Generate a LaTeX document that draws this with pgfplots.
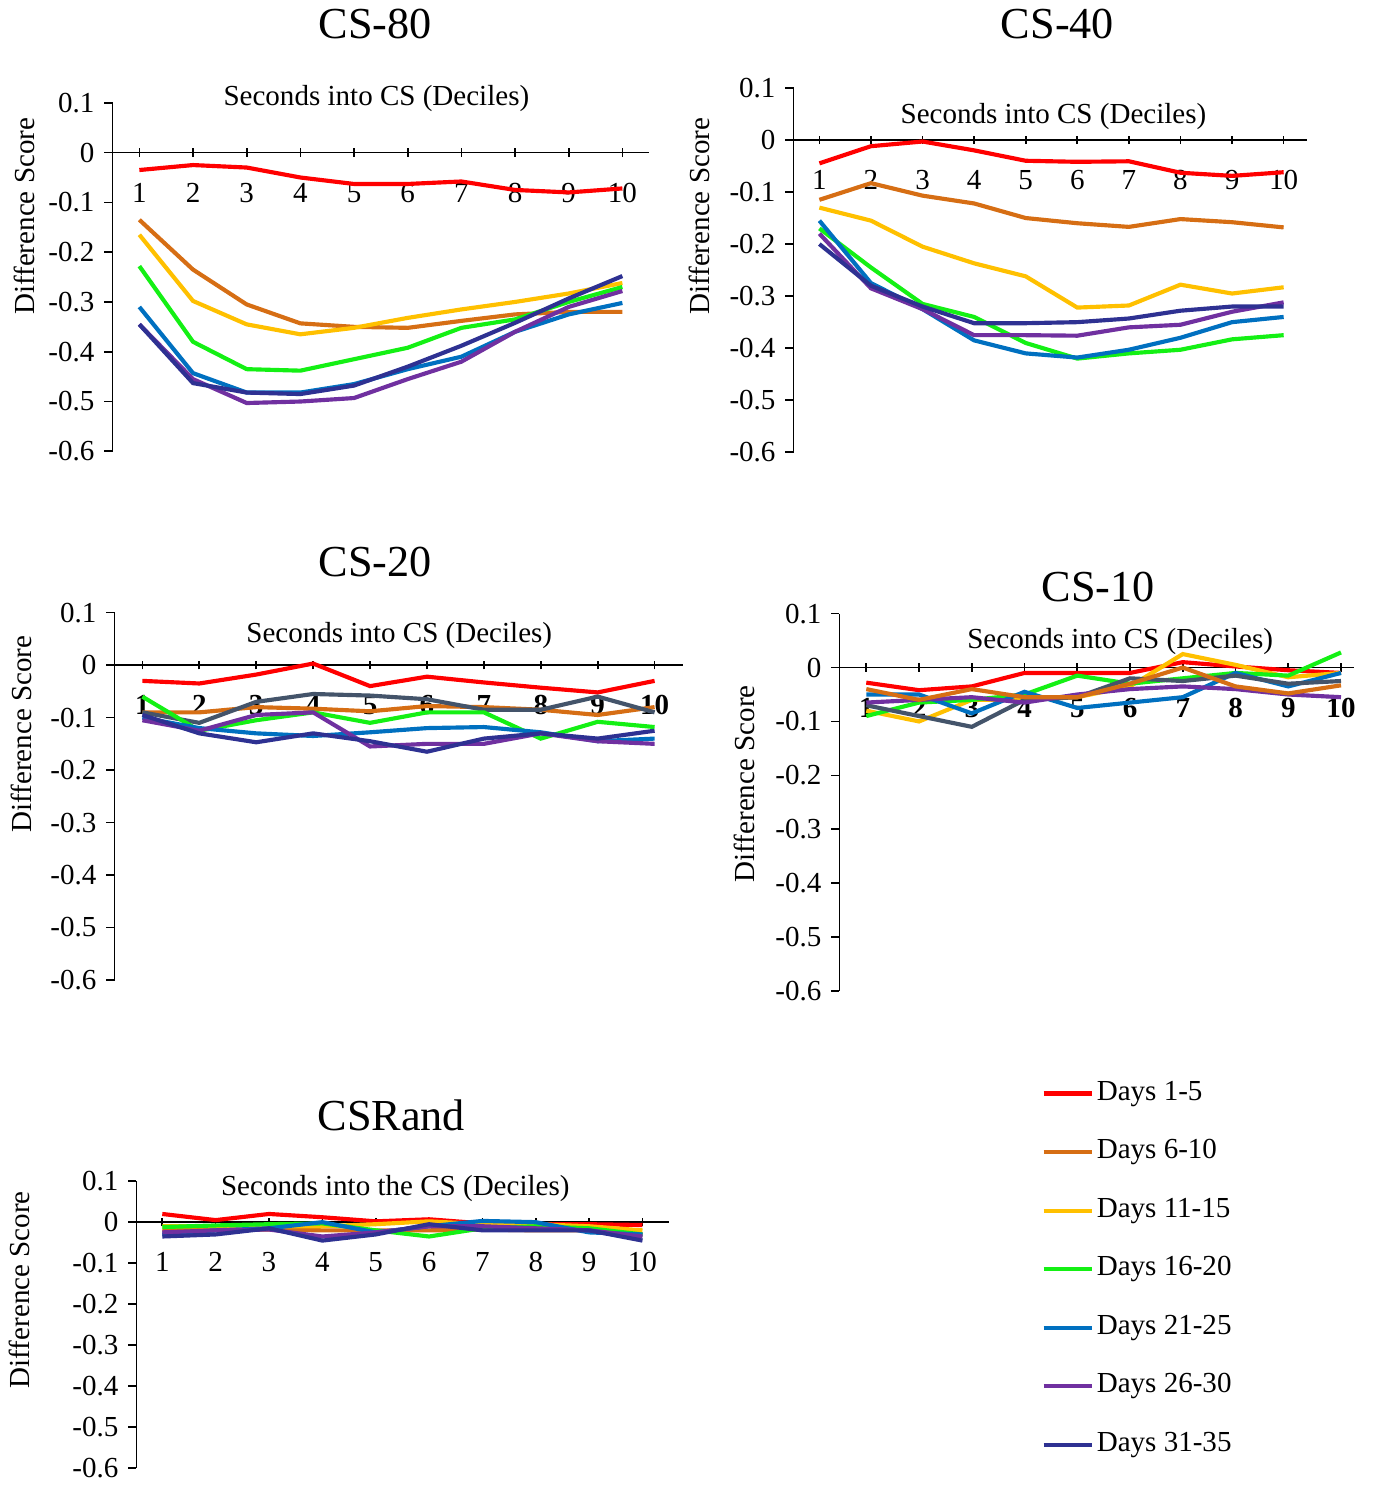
\documentclass[border=0pt]{standalone}
\usepackage{pgfplots}
\pgfplotsset{compat=1.18}
\usepackage{fontspec}
\setmainfont{Liberation Serif}
\definecolor{cA}{RGB}{255,0,0}
\definecolor{cB}{RGB}{214,110,20}
\definecolor{cC}{RGB}{255,192,0}
\definecolor{cD}{RGB}{20,240,20}
\definecolor{cE}{RGB}{0,112,192}
\definecolor{cF}{RGB}{112,48,160}
\definecolor{cG}{RGB}{46,49,146}
\definecolor{cH}{RGB}{68,84,106}
\pgfplotsset{panel/.style={scale only axis, anchor=south west,
 axis x line=middle, axis y line=left, axis line style={-, black, line width=0.6pt},
 ymin=-0.6, ymax=0.1, ytick={-0.6,-0.5,-0.4,-0.3,-0.2,-0.1,0,0.1},
 yticklabels={-0.6,-0.5,-0.4,-0.3,-0.2,-0.1,0,0.1},
 xtick={1,...,10}, xticklabels={1,2,3,4,5,6,7,8,9,10},
 tick style={black, line width=0.6pt}, major tick length=3pt,
 xtick align=center, ytick align=outside,
 ticklabel style={font=\fontsize{10.5}{11}\selectfont},
 xticklabel style={anchor=center, yshift=-13pt},
 every axis plot/.append style={line width=1.5pt, mark=none},
 clip=false}}
\begin{document}
\begin{tikzpicture}
\path (0,0) rectangle (1383*0.36pt,-1487*0.36pt);
% CS-80
\begin{axis}[panel, at={(113*0.36pt,-451*0.36pt)}, width=194.04pt, height=126pt, xmin=0.5, xmax=10.5]
\addplot[cA] coordinates {(1,-0.035)(2,-0.025)(3,-0.03)(4,-0.05)(5,-0.063)(6,-0.063)(7,-0.058)(8,-0.075)(9,-0.08)(10,-0.072)};
\addplot[cB] coordinates {(1,-0.135)(2,-0.235)(3,-0.305)(4,-0.343)(5,-0.35)(6,-0.352)(7,-0.338)(8,-0.325)(9,-0.32)(10,-0.32)};
\addplot[cC] coordinates {(1,-0.165)(2,-0.298)(3,-0.345)(4,-0.365)(5,-0.352)(6,-0.332)(7,-0.315)(8,-0.3)(9,-0.283)(10,-0.262)};
\addplot[cD] coordinates {(1,-0.228)(2,-0.38)(3,-0.435)(4,-0.438)(5,-0.415)(6,-0.392)(7,-0.352)(8,-0.335)(9,-0.3)(10,-0.27)};
\addplot[cE] coordinates {(1,-0.31)(2,-0.443)(3,-0.482)(4,-0.482)(5,-0.465)(6,-0.435)(7,-0.41)(8,-0.36)(9,-0.325)(10,-0.302)};
\addplot[cF] coordinates {(1,-0.345)(2,-0.455)(3,-0.503)(4,-0.5)(5,-0.493)(6,-0.455)(7,-0.42)(8,-0.36)(9,-0.31)(10,-0.278)};
\addplot[cG] coordinates {(1,-0.345)(2,-0.463)(3,-0.482)(4,-0.485)(5,-0.468)(6,-0.43)(7,-0.388)(8,-0.342)(9,-0.293)(10,-0.248)};
\end{axis}
% CS-40
\begin{axis}[panel, at={(797*0.36pt,-452*0.36pt)}, width=185.76pt, height=131.76pt, xmin=0.5, xmax=10.46]
\addplot[cA] coordinates {(1,-0.045)(2,-0.012)(3,-0.003)(4,-0.02)(5,-0.04)(6,-0.042)(7,-0.041)(8,-0.063)(9,-0.069)(10,-0.062)};
\addplot[cB] coordinates {(1,-0.115)(2,-0.083)(3,-0.107)(4,-0.122)(5,-0.15)(6,-0.16)(7,-0.167)(8,-0.152)(9,-0.158)(10,-0.168)};
\addplot[cC] coordinates {(1,-0.13)(2,-0.155)(3,-0.205)(4,-0.237)(5,-0.262)(6,-0.322)(7,-0.318)(8,-0.278)(9,-0.295)(10,-0.283)};
\addplot[cD] coordinates {(1,-0.17)(2,-0.245)(3,-0.315)(4,-0.34)(5,-0.39)(6,-0.42)(7,-0.41)(8,-0.403)(9,-0.383)(10,-0.375)};
\addplot[cE] coordinates {(1,-0.155)(2,-0.275)(3,-0.325)(4,-0.385)(5,-0.41)(6,-0.418)(7,-0.403)(8,-0.38)(9,-0.35)(10,-0.34)};
\addplot[cF] coordinates {(1,-0.18)(2,-0.285)(3,-0.325)(4,-0.375)(5,-0.375)(6,-0.376)(7,-0.36)(8,-0.355)(9,-0.33)(10,-0.312)};
\addplot[cG] coordinates {(1,-0.2)(2,-0.28)(3,-0.32)(4,-0.352)(5,-0.352)(6,-0.35)(7,-0.343)(8,-0.328)(9,-0.32)(10,-0.32)};
\end{axis}
% CS-20
\begin{axis}[panel, at={(115*0.36pt,-982*0.36pt)}, width=205.56pt, height=132.84pt, xmin=0.51, xmax=10.5, xticklabel style={font=\fontsize{10.5}{11}\selectfont\bfseries}]
\addplot[cA] coordinates {(1,-0.03)(2,-0.035)(3,-0.018)(4,0.003)(5,-0.04)(6,-0.022)(7,-0.033)(8,-0.043)(9,-0.052)(10,-0.03)};
\addplot[cB] coordinates {(1,-0.09)(2,-0.09)(3,-0.08)(4,-0.083)(5,-0.088)(6,-0.078)(7,-0.08)(8,-0.085)(9,-0.095)(10,-0.08)};
\addplot[cH] coordinates {(1,-0.09)(2,-0.11)(3,-0.07)(4,-0.055)(5,-0.058)(6,-0.065)(7,-0.085)(8,-0.085)(9,-0.06)(10,-0.09)};
\addplot[cD] coordinates {(1,-0.06)(2,-0.125)(3,-0.105)(4,-0.09)(5,-0.11)(6,-0.09)(7,-0.09)(8,-0.14)(9,-0.108)(10,-0.118)};
\addplot[cE] coordinates {(1,-0.1)(2,-0.12)(3,-0.13)(4,-0.135)(5,-0.128)(6,-0.12)(7,-0.118)(8,-0.128)(9,-0.145)(10,-0.14)};
\addplot[cF] coordinates {(1,-0.105)(2,-0.125)(3,-0.095)(4,-0.09)(5,-0.155)(6,-0.15)(7,-0.15)(8,-0.13)(9,-0.145)(10,-0.15)};
\addplot[cG] coordinates {(1,-0.095)(2,-0.13)(3,-0.147)(4,-0.13)(5,-0.145)(6,-0.165)(7,-0.14)(8,-0.13)(9,-0.14)(10,-0.125)};
\end{axis}
% CS-10
\begin{axis}[panel, at={(843*0.36pt,-993*0.36pt)}, width=186.12pt, height=136.44pt, xmin=0.49, xmax=10.25, xticklabel style={font=\fontsize{10.5}{11}\selectfont\bfseries}]
\addplot[cA] coordinates {(1,-0.028)(2,-0.042)(3,-0.035)(4,-0.01)(5,-0.01)(6,-0.01)(7,0.01)(8,0.002)(9,-0.005)(10,-0.01)};
\addplot[cC] coordinates {(1,-0.08)(2,-0.1)(3,-0.06)(4,-0.06)(5,-0.055)(6,-0.035)(7,0.025)(8,0.005)(9,-0.018)(10,-0.01)};
\addplot[cD] coordinates {(1,-0.09)(2,-0.065)(3,-0.06)(4,-0.05)(5,-0.015)(6,-0.03)(7,-0.02)(8,-0.01)(9,-0.015)(10,0.028)};
\addplot[cE] coordinates {(1,-0.05)(2,-0.05)(3,-0.085)(4,-0.045)(5,-0.075)(6,-0.065)(7,-0.055)(8,-0.01)(9,-0.035)(10,-0.01)};
\addplot[cH] coordinates {(1,-0.07)(2,-0.09)(3,-0.11)(4,-0.06)(5,-0.055)(6,-0.02)(7,-0.025)(8,-0.015)(9,-0.03)(10,-0.025)};
\addplot[cF] coordinates {(1,-0.065)(2,-0.06)(3,-0.055)(4,-0.065)(5,-0.05)(6,-0.04)(7,-0.035)(8,-0.04)(9,-0.05)(10,-0.055)};
\addplot[cB] coordinates {(1,-0.04)(2,-0.06)(3,-0.04)(4,-0.055)(5,-0.055)(6,-0.03)(7,0.0)(8,-0.035)(9,-0.048)(10,-0.033)};
\end{axis}
% CSRand
\begin{axis}[panel, at={(137*0.36pt,-1472*0.36pt)}, width=192.6pt, height=103.68pt, xmin=0.515, xmax=10.5]
\addplot[cA] coordinates {(1,0.02)(2,0.005)(3,0.02)(4,0.012)(5,0.002)(6,0.007)(7,-0.003)(8,-0.005)(9,-0.005)(10,-0.007)};
\addplot[cB] coordinates {(1,-0.02)(2,-0.018)(3,-0.018)(4,-0.02)(5,-0.02)(6,-0.02)(7,-0.018)(8,-0.02)(9,-0.02)(10,-0.03)};
\addplot[cC] coordinates {(1,-0.01)(2,-0.01)(3,-0.01)(4,-0.01)(5,-0.005)(6,0.002)(7,-0.005)(8,-0.005)(9,-0.01)(10,-0.02)};
\addplot[cD] coordinates {(1,-0.012)(2,-0.008)(3,-0.005)(4,-0.003)(5,-0.02)(6,-0.035)(7,-0.015)(8,-0.01)(9,-0.015)(10,-0.03)};
\addplot[cE] coordinates {(1,-0.03)(2,-0.02)(3,-0.015)(4,0.0)(5,-0.025)(6,-0.01)(7,0.003)(8,0.0)(9,-0.025)(10,-0.03)};
\addplot[cF] coordinates {(1,-0.025)(2,-0.02)(3,-0.018)(4,-0.035)(5,-0.025)(6,-0.01)(7,-0.01)(8,-0.015)(9,-0.02)(10,-0.035)};
\addplot[cG] coordinates {(1,-0.035)(2,-0.03)(3,-0.015)(4,-0.045)(5,-0.03)(6,-0.005)(7,-0.02)(8,-0.02)(9,-0.02)(10,-0.045)};
\end{axis}
% titles
\def\T#1#2#3{\node[font=\fontsize{16}{17}\selectfont] at (#1*0.36pt,-#2*0.36pt) {#3};}
\T{377}{22}{CS-80}\T{1062}{22}{CS-40}\T{377}{562}{CS-20}\T{1103}{587}{CS-10}\T{393}{1118}{CSRand}
\def\S#1#2#3{\node[font=\fontsize{10.5}{11}\selectfont] at (#1*0.36pt,-#2*0.36pt) {#3};}
\S{378}{97}{Seconds into CS (Deciles)}\S{1058}{115}{Seconds into CS (Deciles)}
\S{401}{636}{Seconds into CS (Deciles)}\S{1125}{642}{Seconds into CS (Deciles)}
\S{397}{1191}{Seconds into the CS (Deciles)}
\def\Y#1#2{\node[rotate=90,font=\fontsize{10.5}{11}\selectfont] at (#1*0.36pt,-#2*0.36pt) {Difference Score};}
\Y{25}{215}\Y{702}{215}\Y{22}{735}\Y{748}{785}\Y{20}{1293}
% legend
\foreach \c/\t [count=\i from 0] in {cA/Days 1-5,cB/Days 6-10,cC/Days 11-15,cD/Days 16-20,cE/Days 21-25,cF/Days 26-30,cG/Days 31-35}{
 \draw[\c, line width=1.5pt] (1048*0.36pt,{-(1096+58.8*\i)*0.36pt}) -- (1097*0.36pt,{-(1096+58.8*\i)*0.36pt});
 \node[anchor=west, inner sep=0pt, font=\fontsize{10.5}{11}\selectfont] at (1101*0.36pt,{-(1096+58.8*\i)*0.36pt}) {\t};
}
\end{tikzpicture}
\end{document}
